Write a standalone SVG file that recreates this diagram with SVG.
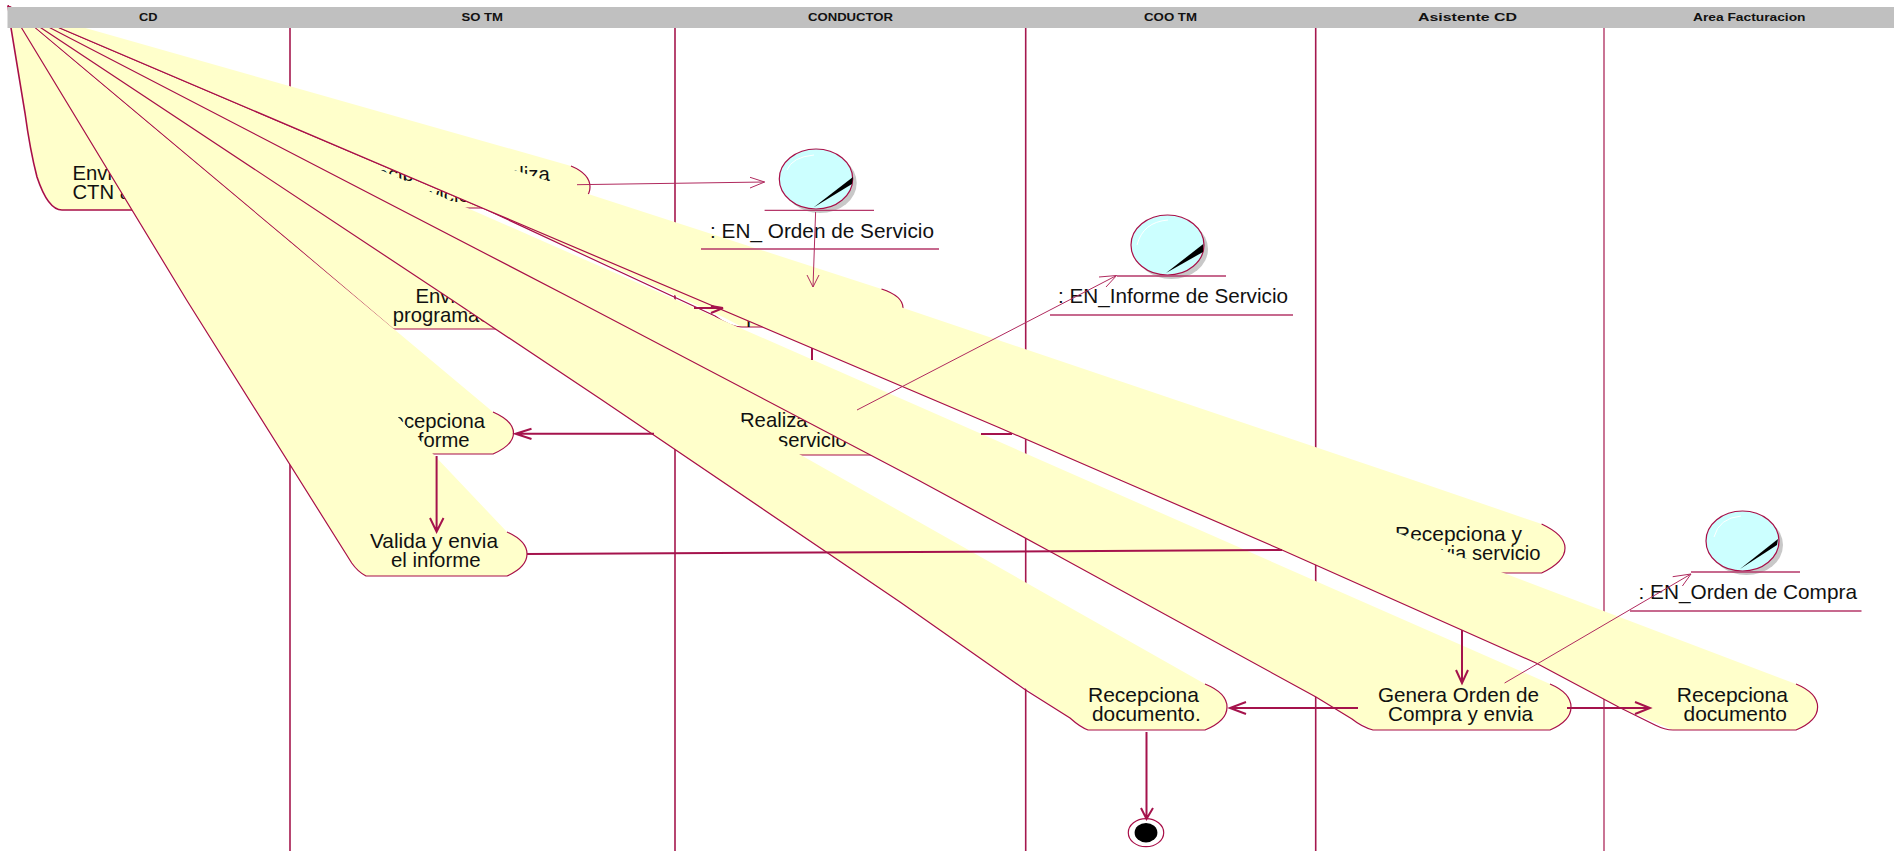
<svg xmlns="http://www.w3.org/2000/svg" width="1894" height="851" viewBox="0 0 1894 851">
<style>
text{font-family:"Liberation Sans",Arial,sans-serif;fill:#111}
.t{font-size:20.25px}
.o{font-size:20.25px}
.h{font-size:11px;font-weight:bold}
.lane{stroke:#A5184E;stroke-width:1.6;fill:none}
.fill{fill:#FFFFCB;stroke:none}
.edge{fill:none;stroke:#A80F48;stroke-width:1.2}
.tr{fill:none;stroke:#A5134C;stroke-width:2}
.fl{fill:none;stroke:#B02A5E;stroke-width:1}
.ul{fill:none;stroke:#B5386A;stroke-width:1.3}
.sh{fill:#C8C8C8}
.ball{fill:#CCFFFF;stroke:#A80F48;stroke-width:1.2}
.hl{fill:none;stroke:#fff;stroke-width:1}
</style>
<rect width="1894" height="851" fill="#fff"/>
<g id="lanes">
<path class="lane" d="M290 28V851M675 28V851M1025.7 28V851M1315.7 28V851"/>
<path class="lane" style="stroke-width:1.2" d="M1604 28V851"/>
</g>
<g id="n-envia-ctn">
<path class="fill" d="M8 6L185 165Q205 175 205 187Q205 200 185 210H62Q50 210 37 177Q30 150 25 113L11 28Z"/>
<path class="edge" style="stroke-width:1.6" d="M8 5.5L11 28L25 113Q30 150 37 177Q48 210 62 210H185"/>
<text class="t" x="72.5" y="180">Envia</text>
<text class="t" x="72.5" y="199">CTN a</text>
</g>
<g id="n-recibe">
<path class="fill" d="M8 6L571 166Q590 174 590 187Q590 200 571 208H345L330 197Z"/>
<path class="edge" d="M571 166Q590 174 590 187Q590 200 571 208H345"/>
<text class="t" x="362" y="181">Recibe</text>
<text class="t" x="490" y="181">realiza</text>
<text class="t" x="401" y="201.5">servicio</text>
</g>
<g id="n-recibe-orden">
<path class="fill" d="M8 6L881.5 289Q903 296 903 308Q903 320 881.5 327H742L725 318L487 210Z"/>
<path class="edge" d="M8 6L487 210L715 316Q730 327 742 327H881.5Q903 320 903 308Q903 296 881.5 289"/>
<text class="t" x="746" y="327">F</text>
</g>
<g id="n-envia-prog">
<path class="fill" d="M8 6L500 286Q520 296 520 308Q520 320 500 329H393L294 245Z"/>
<path class="edge" d="M8 6L35 27.6L294 245L393 329H500Q520 320 520 308Q520 296 500 286"/>
<text class="t" x="415.5" y="303">Envia</text>
<text class="t" x="392.7" y="322">programacion</text>
</g>
<g id="n-realiza">
<path class="fill" d="M8 6L920 413Q940 422 940 434Q940 446 920 455H730L710 440Z"/>
<path class="edge" d="M710 440L730 455H920"/>
<text class="t" x="740" y="427">Realiza</text>
<text class="t" x="778" y="447">servicio</text>
</g>
<g id="n-recepciona-informe">
<path class="fill" d="M8 6L493 412Q513.5 421 513.5 433Q513.5 445 493 454H340L320 440Z"/>
<path class="edge" d="M493 412Q513.5 421 513.5 433Q513.5 445 493 454H340"/>
<text class="t" x="378" y="428">Recepciona</text>
<text class="t" x="402" y="447">informe</text>
</g>
<g id="n-valida">
<path class="fill" d="M8 6L507 532Q527 541 527 554Q527 567 507 576H366Q358 572 351.7 563L186.6 300Z"/>
<path class="edge" d="M8 5.5L186.6 300L351.7 563Q358 572 366 576H507Q527 567 527 554Q527 541 507 532"/>
<text class="t" x="370" y="548" textLength="128" lengthAdjust="spacingAndGlyphs">Valida y envia</text>
<text class="t" x="391" y="567" textLength="89.6" lengthAdjust="spacingAndGlyphs">el informe</text>
</g>
<g id="n-recepciona-envia">
<path class="fill" d="M8 6L1413 480L1541.6 524Q1565 535 1565 548Q1565 562 1541.6 573H1400L1380 560Z"/>
<path class="edge" d="M1541.6 524Q1565 535 1565 548Q1565 562 1541.6 573H1400"/>
<text class="t" x="1395" y="541" textLength="127" lengthAdjust="spacingAndGlyphs">Recepciona y</text>
<text class="t" x="1418" y="560" textLength="122.5" lengthAdjust="spacingAndGlyphs">envia servicio</text>
</g>
<g id="n-recepciona-doc-coo">
<path class="fill" d="M8 6L1205 684Q1227 693 1227 707Q1227 721 1205 730H1088L1000 671.7L900 602L602 400L452 300Z"/>
<path class="edge" d="M8 6L452 300L602 400L900 602L1025.6 690L1070 718Q1080 727 1088 730H1205Q1227 721 1227 707Q1227 693 1205 684"/>
<text class="t" x="1088" y="702" textLength="111" lengthAdjust="spacingAndGlyphs">Recepciona</text>
<text class="t" x="1092" y="721" textLength="108.7" lengthAdjust="spacingAndGlyphs">documento.</text>
</g>
<g id="n-genera">
<path class="fill" d="M8 6L1550 684Q1571 693 1571 707Q1571 721 1550 730H1373L1350 718L1316 697L1051 552L918 480L575 300Z"/>
<path class="edge" d="M8 6L575 300L918 480L1051 552L1316 697L1352 719Q1362 727 1373 730H1550Q1571 721 1571 707Q1571 693 1550 684"/>
<text class="t" x="1378" y="702" textLength="161" lengthAdjust="spacingAndGlyphs">Genera Orden de</text>
<text class="t" x="1388" y="721" textLength="145" lengthAdjust="spacingAndGlyphs">Compra y envia</text>
</g>
<g id="n-recepciona-doc-fact">
<path class="fill" d="M8 6L1796 684Q1817.6 693 1817.6 707Q1817.6 721 1796 730H1673L1618.6 707L1536 663L1282 550L1120 480L1000 428L487 210Z"/>
<path class="edge" d="M8 6L487 210L1000 428L1120 480L1282 550L1536 663L1618.6 707L1655 725Q1665 730 1673 730H1796Q1817.6 721 1817.6 707Q1817.6 693 1796 684"/>
<text class="t" x="1676.7" y="702" textLength="111.3" lengthAdjust="spacingAndGlyphs">Recepciona</text>
<text class="t" x="1683.6" y="721" textLength="103.4" lengthAdjust="spacingAndGlyphs">documento</text>
</g>
<g id="o-orden-servicio">
<ellipse class="sh" cx="820" cy="183" rx="36.7" ry="30"/>
<ellipse class="ball" cx="816" cy="179" rx="36.7" ry="30"/>
<path class="hl" d="M787 170Q792 157 814 155"/>
<path d="M813.5 207.5L853 177L852 184Z" fill="#000"/>
<path class="ul" d="M764.6 210.3H874M701 249H939"/>
<text class="o" x="710" y="238" textLength="224" lengthAdjust="spacingAndGlyphs">: EN_ Orden de Servicio</text>
</g>
<g id="o-informe-servicio">
<ellipse class="sh" cx="1171.5" cy="249" rx="36.5" ry="30"/>
<ellipse class="ball" cx="1167.5" cy="245" rx="36.5" ry="30"/>
<path class="hl" d="M1137 245Q1143 222 1168 220"/>
<path d="M1166 273L1203.3 244L1203 252Z" fill="#000"/>
<path class="ul" d="M1117 276H1226M1050 315H1293"/>
<text class="o" x="1058" y="303" textLength="230" lengthAdjust="spacingAndGlyphs">: EN_Informe de Servicio</text>
</g>
<g id="o-orden-compra">
<ellipse class="sh" cx="1746.5" cy="545" rx="36.5" ry="30"/>
<ellipse class="ball" cx="1742.5" cy="541" rx="36.5" ry="30"/>
<path class="hl" d="M1714 537Q1719 518 1741 516"/>
<path d="M1740 569L1778 539L1777 545Z" fill="#000"/>
<path class="ul" d="M1691 572H1800M1630 611H1861.5"/>
<text class="o" x="1638.5" y="599" textLength="218.5" lengthAdjust="spacingAndGlyphs">: EN_Orden de Compra</text>
</g>
<g id="n-fin">
<ellipse cx="1146" cy="832.7" rx="17.7" ry="14" fill="#fff" stroke="#A80F48" stroke-width="1.2"/>
<ellipse cx="1146" cy="832.7" rx="11.4" ry="9.7" fill="#000"/>
</g>
<g id="connectors">
<path class="fl" d="M577 184.7L764.6 182M750 177.3L764.6 182L750 188"/>
<path class="fl" d="M815.6 212L813 287M807 275L813 287L819 275"/>
<path class="tr" d="M694 308H723L711 313M711 306L723 308"/>
<path class="tr" d="M812 348V360"/>
<path class="fl" d="M857 410L1116.6 275.5M1099 277L1116.6 275.5L1106 287"/>
<path class="tr" d="M654 433.7H515.5M531.5 428.7L515.5 433.7L531.5 439"/>
<path class="tr" d="M981 434H1012"/>
<path class="tr" d="M436.6 456V531.7M430 518L436.6 531.7L443.5 518"/>
<path class="tr" d="M527 554L1282 550"/>
<path class="tr" d="M1462 630V683M1456 670L1462 683L1468 670"/>
<path class="fl" d="M1504.6 683L1691 574M1672.7 576.7L1691 574L1682.4 586"/>
<path class="tr" d="M1358 708H1230M1246 702L1230 708L1246 714"/>
<path class="tr" d="M1567 708H1650M1635 702L1650 708L1635 714"/>
<path class="tr" d="M1146.5 732V819M1141 808L1146.5 819L1153 808"/>
</g>
<g id="header">
<rect x="7.5" y="7" width="1886.5" height="21" fill="#C0C0C0"/>
<text class="h" x="139" y="21" textLength="18.5" lengthAdjust="spacingAndGlyphs">CD</text>
<text class="h" x="461.5" y="21" textLength="41.5" lengthAdjust="spacingAndGlyphs">SO TM</text>
<text class="h" x="808" y="21" textLength="85" lengthAdjust="spacingAndGlyphs">CONDUCTOR</text>
<text class="h" x="1144" y="21" textLength="53" lengthAdjust="spacingAndGlyphs">COO TM</text>
<text class="h" x="1418" y="21" textLength="99" lengthAdjust="spacingAndGlyphs">Asistente CD</text>
<text class="h" x="1693" y="21" textLength="112.5" lengthAdjust="spacingAndGlyphs">Area Facturacion</text>
</g>
</svg>
